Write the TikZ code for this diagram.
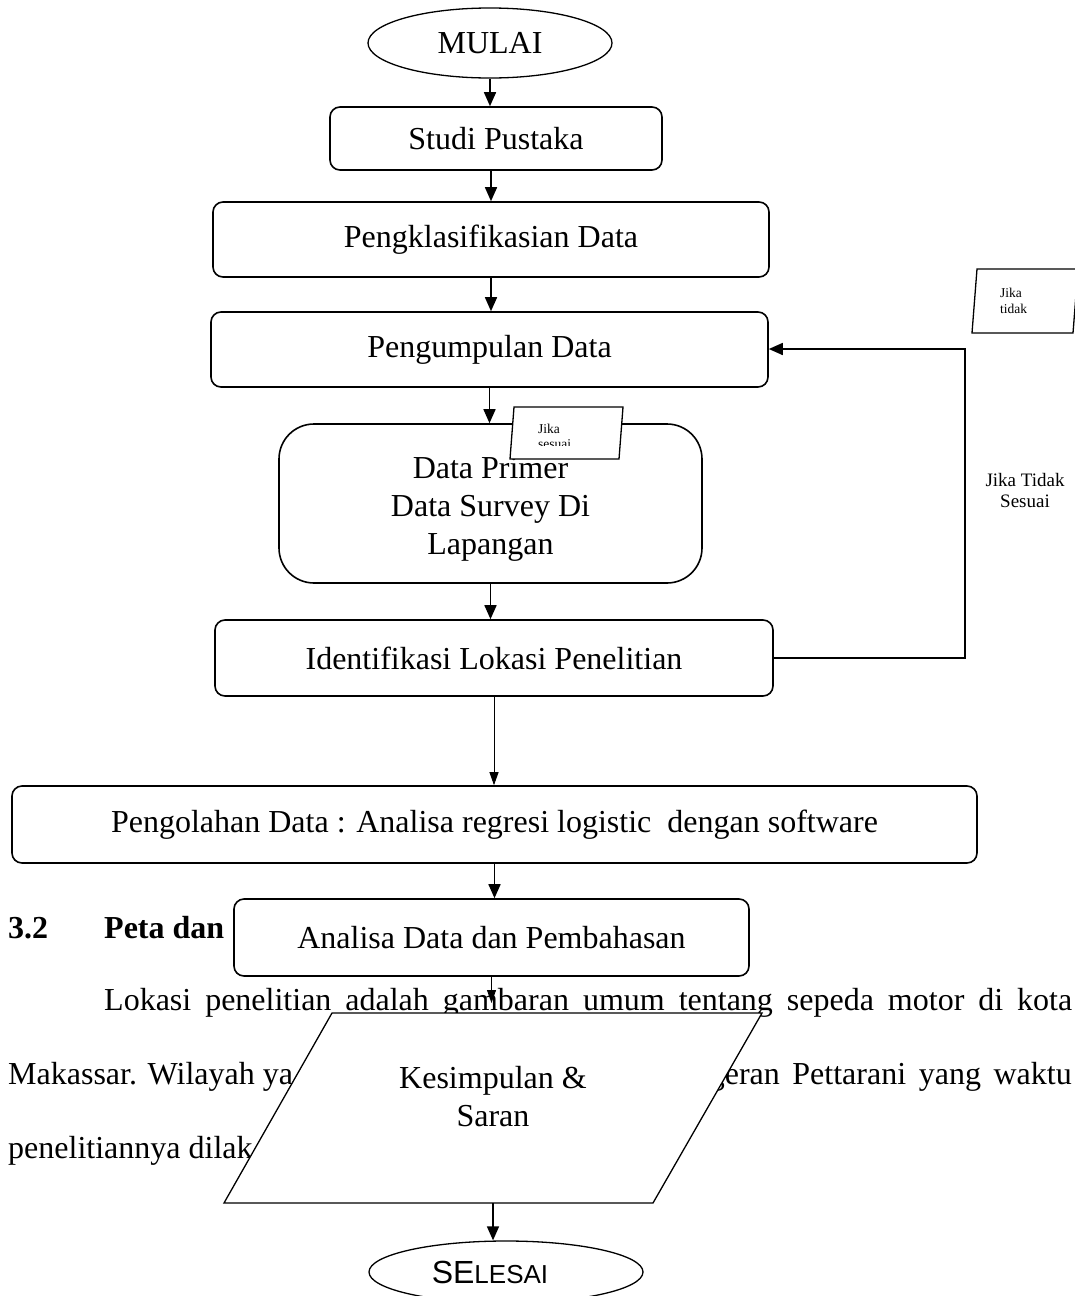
\documentclass[tikz,border=0pt]{standalone}
\usepackage{fontspec}
\setmainfont{Liberation Serif}
\newfontfamily\arialfont{Liberation Sans}
\usetikzlibrary{arrows.meta,shapes.geometric}

\newcommand{\teksbesar}{\fontsize{32}{38}\selectfont}
\newcommand{\tekssedang}{\fontsize{19}{21}\selectfont}
\newcommand{\tekskecil}{\fontsize{13.5}{15}\selectfont}

\tikzset{
	kotak/.style={draw, rounded corners=10pt, line width=1.6pt, fill=white, inner sep=0pt, font=\teksbesar, align=center},
	oval/.style={draw, ellipse, line width=1.3pt, fill=white, inner sep=0pt},
	jajar/.style={draw, line width=1.3pt, fill=white},
	panah/.style={-{Triangle[width=12pt,length=14pt]}, line width=1.6pt},
	panahtipis/.style={-{Triangle[width=9pt,length=13pt]}, line width=0.9pt},
	paragraf/.style={font=\teksbesar, inner sep=0pt, anchor=base west}
}

\begin{document}
\begin{tikzpicture}[x=1pt,y=-1pt]
	\useasboundingbox (0,0) rectangle (1075,1296);
	
	\node[paragraf, font=\teksbesar\bfseries] at (8,938) (subbab) {3.2};
	\node[paragraf, font=\teksbesar\bfseries] at (104,938) (judul) {Peta dan};
	\node[paragraf] at (104,1010) (baris1) {\makebox[968pt][s]{Lokasi penelitian adalah gambaran umum tentang sepeda motor di kota}};
	\node[paragraf] at (8,1084) (baris2a) {Makassar. Wilayah ya};
	\node[paragraf, anchor=base east] at (1072,1084) (baris2b) {\makebox[363pt][s]{geran Pettarani yang waktu}};
	\node[paragraf] at (8,1158) (baris3) {penelitiannya dilak};
	
	\node[oval, minimum width=244pt, minimum height=70pt, font=\teksbesar] at (490,43) (mulai) {MULAI};
	\node[kotak, minimum width=332pt, minimum height=63pt] at (496,138.5) (studi) {Studi Pustaka};
	\node[kotak, minimum width=556pt, minimum height=75pt] at (491,239.5) (klasifikasi) {Pengklasifikasian Data};
	\node[kotak, minimum width=557pt, minimum height=75pt] at (489.5,349.5) (kumpul) {Pengumpulan Data};
	\node[kotak, rounded corners=35pt, minimum width=423pt, minimum height=159pt] at (490.5,503.5) (primer) {};
	\node[font=\teksbesar, align=center] at (490.5,509) (primerteks) {Data Primer\\Data Survey Di\\Lapangan};
	\node[kotak, minimum width=558pt, minimum height=76pt] at (494,658) (identifikasi) {Identifikasi Lokasi Penelitian};
	\node[kotak, minimum width=965pt, minimum height=77pt] at (494.5,824.5) (olah) {Pengolahan Data : Analisa regresi logistic \ dengan software};
	\node[kotak, minimum width=515pt, minimum height=77pt] at (491.5,937.5) (analisa) {Analisa Data dan Pembahasan};
	
	\draw[jajar] (332,1013) -- (762,1013) -- (653,1203) -- (224,1203) -- cycle;
	\coordinate (simpulanatas) at (493,1013);
	\coordinate (simpulanbawah) at (493,1203);
	\node[font=\teksbesar, align=center] at (493,1097) (simpulan) {Kesimpulan \&\\Saran};
	\node[oval, minimum width=274pt, minimum height=62pt, font=\arialfont] at (506,1272) (selesai) {\raisebox{-5pt}{{\fontsize{32}{32}\selectfont SE}{\fontsize{26}{26}\selectfont LESAI}}\kern32pt};
	
	\draw[jajar] (514,407) -- (623,407) -- (619,459) -- (510,459) -- cycle;
	\begin{scope}
		\clip (512,410) rectangle (621,445);
		\node[font=\tekskecil, align=left, anchor=north west, inner sep=0pt] at (538,424) (sesuai) {Jika\\sesuai};
	\end{scope}
	\draw[jajar] (977,269) -- (1078,269) -- (1073,333) -- (972,333) -- cycle;
	\node[font=\fontsize{13.5}{16}\selectfont, align=left, anchor=west, inner sep=0pt] at (1000,301) (tidak) {Jika\\tidak};
	\node[font=\tekssedang, align=center] at (1025,490) (tidaksesuai) {Jika Tidak\\Sesuai};
	
	\draw[panah] (mulai.south) -- (mulai.south |- studi.north);
	\draw[panah] (klasifikasi.north |- studi.south) -- (klasifikasi.north);
	\draw[panah] (klasifikasi.south) -- (klasifikasi.south |- kumpul.north);
	\draw[panah] (kumpul.south) -- (kumpul.south |- primer.north);
	\draw[panah] (primer.south) -- (primer.south |- identifikasi.north);
	\draw[panahtipis] (identifikasi.south) -- (identifikasi.south |- olah.north);
	\draw[panah] (olah.south) -- (olah.south |- analisa.north);
	\draw[panahtipis, shorten >=10pt] (analisa.south) -- (analisa.south |- simpulanatas);
	\draw[panah] (simpulanbawah) -- (simpulanbawah |- selesai.north);
	
	\coordinate (belok) at (965,349);
	\draw[panah] (identifikasi.east) -| (belok) -- (kumpul.east |- belok);
\end{tikzpicture}
\end{document}
